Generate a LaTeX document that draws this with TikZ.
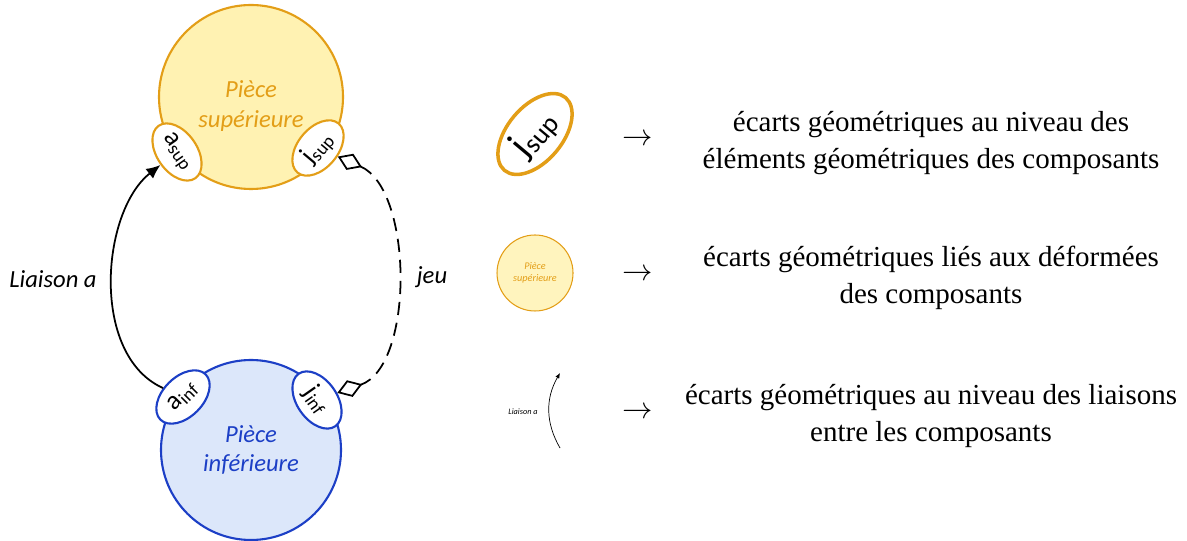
\documentclass[tikz,border=0pt]{standalone}
\usepackage{fontspec}
\setmainfont{Liberation Serif}
\newfontfamily\calibri{Carlito}
\usetikzlibrary{shapes}
\usetikzlibrary{arrows.meta}
\definecolor{fondsup}{HTML}{FFF2B2}
\definecolor{orsup}{HTML}{E39E17}
\definecolor{fondinf}{HTML}{DCE7FA}
\definecolor{bleuinf}{HTML}{1C3FC6}
\newcommand{\indice}[2]{#1\textsubscript{#2}}
\tikzset{
	piece/.style = {circle, inner sep=0pt, align=center, line width=1.2pt,
		font=\calibri\itshape\fontsize{14}{17}\selectfont},
	piece_s/.style = {piece, draw=orsup, fill=fondsup, text=orsup,
		minimum size=3.68cm},% piece superieure
	piece_i/.style = {piece, draw=bleuinf, fill=fondinf, text=bleuinf,
		minimum size=3.6cm},% piece inferieure
	elt/.style = {ellipse, fill=white, inner sep=0pt, line width=1.2pt,
		minimum width=1.28cm, minimum height=0.8cm,
		font=\calibri\fontsize{15}{15}\selectfont},% element geometrique
	elt_s/.style = {elt, draw=orsup},
	elt_i/.style = {elt, draw=bleuinf},
	lbl/.style = {font=\calibri\itshape\fontsize{14}{17}\selectfont},% etiquette
	leg/.style = {align=center, font=\fontsize{16.5}{21}\selectfont}% legende
}
\begin{document}
\begin{tikzpicture}[>={Latex[length=8pt,width=7pt]}]
	\useasboundingbox (0,0) rectangle (23.74,10.8);
	% pieces
	\node[piece_s] (sup) at (5.02,8.86) {};
	\node[piece, text=orsup] (supt) at ([yshift=-0.18cm]sup) {Pièce\\supérieure};
	\node[piece_i] (inf) at (5.02,1.80) {Pièce\\inférieure};
	% elements geometriques
	\node[elt_s, rotate=-55] (asup) at (3.54,7.76) {\indice{a}{sup}};
	\node[elt_s, rotate=50] (jsup) at (6.36,7.84) {\indice{j}{sup}};
	\node[elt_i, rotate=45] (ainf) at (3.66,2.86) {\indice{a}{inf}};
	\node[elt_i, rotate=-55] (jinf) at (6.34,2.80) {\indice{j}{inf}};
	% liaisons
	\draw[->, line width=1pt] (ainf) to[out=145,in=-130,looseness=0.82] (asup);
	\draw[{Diamond[open,length=15pt,width=10pt]}-{Diamond[open,length=15pt,width=10pt]},
		line width=1pt, dash pattern=on 7.5pt off 4.5pt] (jsup) to[out=-35,in=32,looseness=0.8] (jinf);
	\node[lbl] (liaison) at (1.06,5.22) {Liaison a};
	\node[lbl] (jeu) at (8.64,5.26) {jeu};
	% legende
	\node[elt_s, rotate=50, minimum width=1.9cm, minimum height=1.1cm, line width=2pt,
		font=\calibri\fontsize{22}{22}\selectfont] (legj) at (10.70,8.12) {\indice{j}{sup}};
	\node[piece_s, minimum size=1.52cm, line width=0.6pt, fill=fondsup!85,
		font=\calibri\itshape\fontsize{5.8}{7}\selectfont] (legp) at (10.70,5.34) {Pièce\\supérieure};
	\coordinate (lga) at (11.20,1.84);
	\coordinate (lgb) at (11.20,3.34);
	\draw[-{Latex[length=3pt,width=2.5pt]}, line width=0.4pt] (lga) to[out=120,in=-120] (lgb);
	\node[font=\calibri\itshape\fontsize{4.7}{5}\selectfont] (legl) at (10.46,2.56) {Liaison a};
	\node[leg] (f1) at (12.76,8.00) {$\rightarrow$};
	\node[leg] (f2) at (12.76,5.30) {$\rightarrow$};
	\node[leg] (f3) at (12.76,2.54) {$\rightarrow$};
	\node[leg] (t1) at (18.62,7.94) {écarts géométriques au niveau des\\éléments géométriques des composants};
	\node[leg] (t2) at (18.62,5.24) {écarts géométriques liés aux déformées\\des composants};
	\node[leg] (t3) at (18.62,2.48) {écarts géométriques au niveau des liaisons\\entre les composants};
\end{tikzpicture}
\end{document}
